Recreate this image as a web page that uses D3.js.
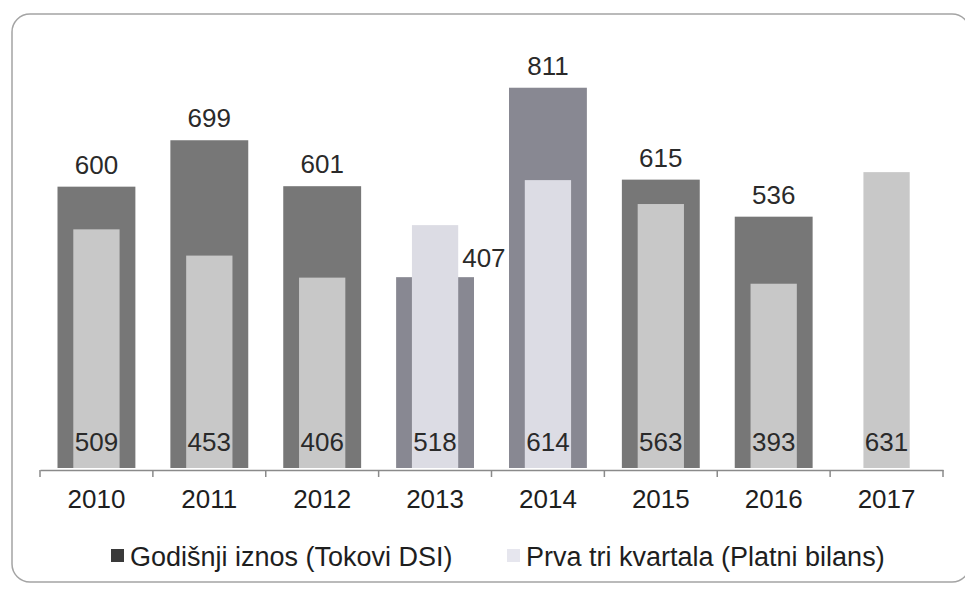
<!DOCTYPE html>
<html>
<head>
<meta charset="utf-8">
<script src="https://cdn.jsdelivr.net/npm/d3@7"></script>
<style>
  html, body { margin: 0; padding: 0; background: #fff; }
  svg { display: block; font-family: "Liberation Sans", Arial, sans-serif; }
</style>
</head>
<body>
<div id="chart"></div>
<script>
// data
const years = ['2010', '2011', '2012', '2013', '2014', '2015', '2016', '2017'];
const annualFlow = [600, 699, 601, 407, 811, 615, 536, null];   // Godišnji iznos (Tokovi DSI)
const firstThreeQ = [509, 453, 406, 518, 614, 563, 393, 631];   // Prva tri kvartala (Platni bilans)
const seriesNames = ['Godišnji iznos (Tokovi DSI)', 'Prva tri kvartala (Platni bilans)'];

const width = 965, height = 594;
const plot = { left: 40, right: 943, top: 46, bottom: 468 };

// scan gives 2013/2014 a bluish tint
const darkFill = y => (y === '2013' || y === '2014') ? '#888892' : '#777777';
const lightFill = y => (y === '2013' || y === '2014') ? '#dcdce4' : '#c8c8c8';

const svg = d3.select('#chart').append('svg')
  .attr('width', width)
  .attr('height', height);

// rounded frame
svg.append('rect')
  .attr('x', 12).attr('y', 14)
  .attr('width', 958).attr('height', 568)
  .attr('rx', 18)
  .attr('fill', '#fff')
  .attr('stroke', '#a4a4a4')
  .attr('stroke-width', 1.5);

const x = d3.scaleBand()
  .domain(years)
  .range([plot.left, plot.right])
  .padding(0);

const y = d3.scaleLinear()
  .domain([0, 900])
  .range([plot.bottom, plot.top]);

const darkW = x.bandwidth() * 0.69;
const lightW = x.bandwidth() * 0.41;
const cx = d => x(d) + x.bandwidth() / 2;

const rows = years.map((yr, i) => ({ year: yr, annual: annualFlow[i], q3: firstThreeQ[i] }));

// annual bars (wide, dark)
svg.append('g').selectAll('rect')
  .data(rows.filter(d => d.annual != null))
  .join('rect')
  .attr('x', d => cx(d.year) - darkW / 2)
  .attr('y', d => y(d.annual))
  .attr('width', darkW)
  .attr('height', d => y(0) - y(d.annual))
  .attr('fill', d => darkFill(d.year));

// first three quarters (narrow, light)
svg.append('g').selectAll('rect')
  .data(rows)
  .join('rect')
  .attr('x', d => cx(d.year) - lightW / 2)
  .attr('y', d => y(d.q3))
  .attr('width', lightW)
  .attr('height', d => y(0) - y(d.q3))
  .attr('fill', d => lightFill(d.year));

// annual value labels (2013 sits beside the bar, its top is hidden by the light bar)
svg.append('g').selectAll('text')
  .data(rows.filter(d => d.annual != null))
  .join('text')
  .attr('x', d => d.annual < d.q3 ? cx(d.year) + lightW / 2 + 4 : cx(d.year))
  .attr('y', d => d.annual < d.q3 ? y(d.annual) - 10 : y(d.annual) - 13)
  .attr('text-anchor', d => d.annual < d.q3 ? 'start' : 'middle')
  .attr('font-size', 26)
  .attr('fill', '#2a2a2a')
  .text(d => d.annual);

// inner labels near the base
svg.append('g').selectAll('text')
  .data(rows)
  .join('text')
  .attr('x', d => cx(d.year))
  .attr('y', y(0) - 17)
  .attr('text-anchor', 'middle')
  .attr('font-size', 26)
  .attr('fill', '#2a2a2a')
  .text(d => d.q3);

// x axis
const axis = svg.append('g')
  .attr('transform', `translate(0,${plot.bottom + 2})`)
  .call(d3.axisBottom(x).tickSize(0).tickPadding(20))
  .call(g => g.select('.domain').attr('stroke', '#8a8a8a').attr('stroke-width', 1.5))
  .call(g => g.selectAll('.tick text')
    .attr('font-size', 26)
    .attr('fill', '#1e1e1e')
    .attr('font-family', '"Liberation Sans", Arial, sans-serif'));

// tick marks at category boundaries
axis.append('g').selectAll('line')
  .data(years.map(d => x(d)).concat([plot.right]))
  .join('line')
  .attr('x1', d => d).attr('x2', d => d)
  .attr('y1', 0).attr('y2', 7)
  .attr('stroke', '#8a8a8a')
  .attr('stroke-width', 1.5);

// legend
const legend = svg.append('g').attr('font-size', 27).attr('fill', '#1e1e1e');
const legendItems = [
  { name: seriesNames[0], x: 111, fill: '#3a3a3a' },
  { name: seriesNames[1], x: 507, fill: '#e6e6ee' }
];
legendItems.forEach(it => {
  legend.append('rect')
    .attr('x', it.x).attr('y', 549)
    .attr('width', 13).attr('height', 13)
    .attr('fill', it.fill);
  legend.append('text')
    .attr('x', it.x + 19).attr('y', 566)
    .text(it.name);
});
</script>
</body>
</html>
